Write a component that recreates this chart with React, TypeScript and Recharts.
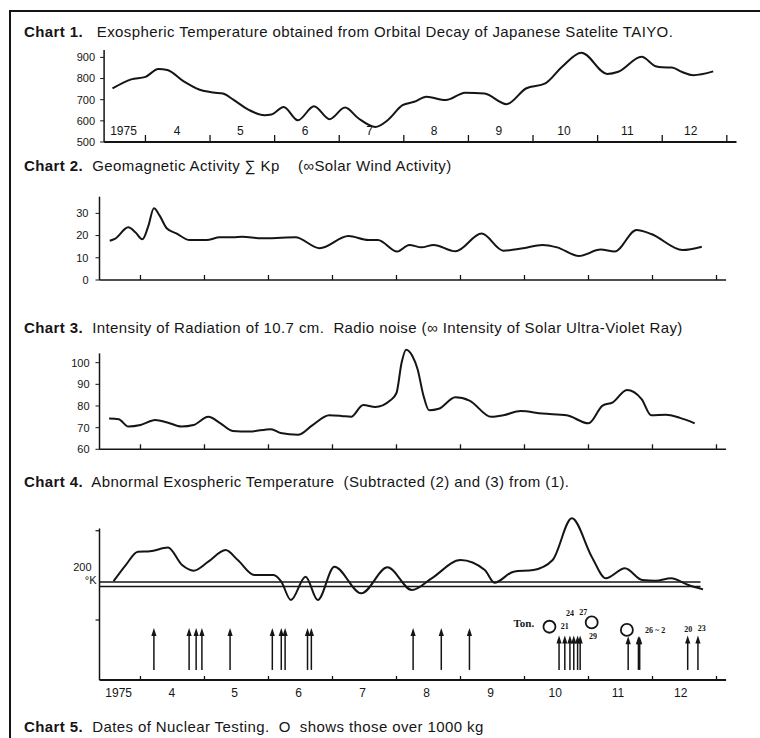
import React from "react";
import {
  ComposedChart,
  Line,
  LineChart,
  ReferenceDot,
  ReferenceLine,
  Scatter,
  XAxis,
  YAxis,
} from "recharts";

const FONT = '"Liberation Sans", Arial, sans-serif';
const SERIF = '"Liberation Serif", "Times New Roman", serif';
const INK = "#151515";

// months of 1975: integers are month boundaries, labels sit mid-month
const X_DOMAIN: [number, number] = [3.36, 13.15];
const monthBounds = [4, 5, 6, 7, 8, 9, 10, 11, 12, 13];
const monthLabels = ["1975", "4", "5", "6", "7", "8", "9", "10", "11", "12"];
const monthLabelAt = [3.66, 4.49, 5.47, 6.47, 7.47, 8.47, 9.47, 10.48, 11.46, 12.44];

// Chart 1 exospheric temperature (K)
const c1Month = [3.49, 3.78, 4.0, 4.2, 4.34, 4.6, 4.83, 5.05, 5.2, 5.36, 5.6, 5.84, 5.95, 6.14, 6.36, 6.61, 6.85, 7.09, 7.3, 7.56, 7.75, 7.98, 8.16, 8.35, 8.65, 8.95, 9.25, 9.59, 9.89, 10.19, 10.45, 10.75, 11.15, 11.32, 11.68, 11.9, 12.0, 12.15, 12.3, 12.48, 12.79];
const c1Temp = [753, 796, 808, 845, 840, 785, 748, 734, 729, 700, 652, 627, 630, 666, 603, 669, 608, 663, 611, 571, 603, 674, 690, 714, 698, 733, 729, 679, 753, 777, 856, 922, 822, 832, 903, 858, 853, 852, 832, 816, 834];

// Chart 2 geomagnetic activity (sum Kp)
const c2Month = [3.52, 3.6, 3.81, 3.92, 4.03, 4.12, 4.21, 4.3, 4.41, 4.56, 4.77, 5.03, 5.24, 5.45, 5.59, 5.89, 6.2, 6.42, 6.8, 7.25, 7.56, 7.71, 8.01, 8.2, 8.39, 8.58, 8.92, 9.33, 9.67, 9.98, 10.28, 10.51, 10.85, 11.19, 11.41, 11.75, 11.98, 12.47, 12.77];
const c2Kp = [17.7, 18.5, 23.7, 21.5, 18.3, 24, 32.3, 29, 23.3, 21, 18, 18, 19.2, 19.2, 19.5, 18.8, 19, 19.2, 14.3, 19.8, 18, 18, 12.8, 15.8, 14.7, 15.8, 12.9, 20.9, 13.2, 14.3, 15.8, 14.7, 10.8, 13.7, 12.8, 22.5, 20.7, 13.5, 15];

// Chart 3 10.7 cm radio flux
const c3Month = [3.51, 3.66, 3.81, 4.0, 4.23, 4.42, 4.64, 4.83, 5.06, 5.25, 5.44, 5.7, 6.04, 6.19, 6.46, 6.69, 6.95, 7.14, 7.29, 7.48, 7.67, 7.9, 8.0, 8.08, 8.15, 8.25, 8.33, 8.42, 8.51, 8.66, 8.92, 9.14, 9.48, 9.67, 9.94, 10.28, 10.66, 11.0, 11.22, 11.38, 11.6, 11.83, 11.98, 12.21, 12.43, 12.66];
const c3Flux = [74.2, 73.9, 70.5, 71.2, 73.5, 72.4, 70.5, 71.2, 75, 72, 68.5, 68.2, 69.3, 67.5, 66.7, 71.2, 75.7, 75.4, 75, 80.5, 79.5, 82.5, 86, 100, 106, 103, 97, 85, 78, 78.7, 84, 82.5, 75, 75.7, 77.7, 76.5, 75.7, 72, 80.2, 81.7, 87.4, 83.2, 75.7, 76, 74.5, 72];

// Chart 4 abnormal exospheric temperature (K, deviation)
const c4Month = [3.58, 3.77, 3.96, 4.15, 4.43, 4.65, 4.83, 5.06, 5.33, 5.52, 5.78, 6.08, 6.2, 6.35, 6.58, 6.77, 7.03, 7.45, 7.86, 8.24, 8.55, 9.0, 9.38, 9.53, 9.83, 10.14, 10.44, 10.74, 11.05, 11.27, 11.57, 11.84, 12.05, 12.29, 12.56, 12.79];
const c4Dev = [35, 237, 404, 410, 455, 237, 167, 279, 425, 300, 112, 112, 29, -200, 92, -200, 217, -117, 208, -75, 71, 300, 175, 17, 154, 175, 300, 821, 342, 71, 196, 50, 40, 71, -12, -67];
const c4Bands = [25, -31];

// Chart 5 nuclear tests
const testMonth = [4.21, 4.76, 4.87, 4.96, 5.4, 6.06, 6.2, 6.26, 6.61, 6.67, 8.26, 8.7, 9.14, 10.54, 10.63, 10.71, 10.77, 10.83, 10.87, 11.62, 11.78, 11.8, 12.55, 12.71];
const testTop = [31, 31, 31, 31, 31, 31, 31, 31, 31, 31, 31, 31, 31, 26.5, 26.5, 26.5, 26.5, 26.5, 26.5, 26, 26, 26, 26.5, 26.5];
const testBase = 6;
const bigTestMonth = [10.39, 11.05, 11.6];
const bigTestH = [31.7, 34.3, 29.8];
const noteText = ["21", "24", "27", "29", "26 ~ 2", "20", "23"];
const noteMonth = [10.63, 10.71, 10.92, 11.07, 12.04, 12.56, 12.77];
const noteH = [31.7, 39.3, 40.1, 25.8, 29.3, 29.8, 30.8];

const zip = (ms: number[], vs: number[]) => ms.map((m, i) => ({ m, v: vs[i] }));
const sortedTicks = [...monthBounds, ...monthLabelAt].sort((a, b) => a - b);
const testTips = testMonth.map((m, i) => ({ m, h: testTop[i] }));

function monthTick(tickLen: number, labelDy: number | null) {
  return (props: any) => {
    const { x, y, payload } = props;
    const v = payload.value;
    if (Number.isInteger(v)) {
      return <line x1={x} x2={x} y1={y} y2={y - tickLen} stroke={INK} strokeWidth={1.3} />;
    }
    const i = monthLabelAt.indexOf(v);
    if (labelDy === null || i < 0) return <g />;
    return (
      <text x={x} y={y + labelDy} textAnchor="middle" dominantBaseline="central" fontSize={12} fontFamily={FONT} fill={INK}>
        {monthLabels[i]}
      </text>
    );
  };
}

const yTick = { fontSize: 11, fill: INK, fontFamily: FONT };

const ArrowHead = (p: any) => {
  const { cx, cy } = p;
  return <polygon points={`${cx},${cy} ${cx - 2.6},${cy + 8} ${cx + 2.6},${cy + 8}`} fill={INK} />;
};

// small annotation text drawn at a reference dot position
const noteShape = (text: string, size: number) => (p: any) => (
  <text x={p.cx} y={p.cy} textAnchor="middle" dominantBaseline="central" fontSize={size} fontWeight={700} fontFamily={SERIF} fill={INK} opacity={0.99}>
    {text}
  </text>
);

const Chart4Tick = (p: any) => {
  const { x, y, payload } = p;
  if (payload.value === 200) {
    return (
      <g fontFamily={FONT} fontSize={11} fill={INK}>
        <text x={x - 8} y={y - 1} textAnchor="end" dominantBaseline="central">200</text>
        <text x={x - 3} y={y + 12} textAnchor="end" dominantBaseline="central">°K</text>
      </g>
    );
  }
  return <line x1={x - 4} x2={x} y1={y} y2={y} stroke={INK} strokeWidth={1.2} />;
};

const titles = [
  { top: 24, head: "Chart 1.", rest: "   Exospheric Temperature obtained from Orbital Decay of Japanese Satelite TAIYO." },
  { top: 158, head: "Chart 2.", rest: "  Geomagnetic Activity ∑ Kp    (∞Solar Wind Activity)" },
  { top: 320, head: "Chart 3.", rest: "  Intensity of Radiation of 10.7 cm.  Radio noise (∞ Intensity of Solar Ultra-Violet Ray)" },
  { top: 474, head: "Chart 4.", rest: "  Abnormal Exospheric Temperature  (Subtracted (2) and (3) from (1)." },
  { top: 719, head: "Chart 5.", rest: "  Dates of Nuclear Testing.  O  shows those over 1000 kg" },
];

const lineProps = {
  type: "monotone" as const,
  dataKey: "v",
  stroke: INK,
  strokeWidth: 2,
  dot: false,
  isAnimationActive: false,
};

export default function App() {
  return (
    <div style={{ position: "absolute", left: 0, top: 0, width: 760, height: 738, background: "#fff", overflow: "hidden", fontFamily: FONT, color: INK }}>
      <div style={{ position: "absolute", left: 9, top: 10, width: 760, height: 1.5, background: INK }} />
      <div style={{ position: "absolute", left: 9, top: 10, width: 1.5, height: 740, background: INK }} />

      {titles.map((t) => (
        <div key={t.head} style={{ position: "absolute", left: 24, top: t.top - 1, fontSize: 15, lineHeight: "17px", letterSpacing: 0.4, whiteSpace: "pre" }}>
          <b>{t.head}</b>
          {t.rest}
        </div>
      ))}

      <div style={{ position: "absolute", left: 0, top: 0 }}>
        <LineChart width={760} height={152} data={zip(c1Month, c1Temp)} margin={{ top: 50, right: 23.5, bottom: 0, left: 64.1 }}>
          <XAxis type="number" dataKey="m" domain={X_DOMAIN} ticks={sortedTicks} interval={0} tickLine={false} tickSize={0} tickMargin={0} height={10} axisLine={{ stroke: INK, strokeWidth: 1.8 }} tick={monthTick(7, -11)} />
          <YAxis type="number" width={40} domain={[500, 935]} ticks={[500, 600, 700, 800, 900]} interval={0} tickSize={4} tickMargin={5} tick={yTick} axisLine={{ stroke: INK, strokeWidth: 1.5 }} tickLine={{ stroke: INK }} />
          <Line {...lineProps} />
        </LineChart>
      </div>

      <div style={{ position: "absolute", left: 0, top: 190 }}>
        <LineChart width={760} height={100} data={zip(c2Month, c2Kp)} margin={{ top: 6.7, right: 33.9, bottom: 0, left: 59.5 }}>
          <XAxis type="number" dataKey="m" domain={X_DOMAIN} ticks={monthBounds} interval={0} tickLine={false} tickSize={0} tickMargin={0} height={10} axisLine={{ stroke: INK, strokeWidth: 1.6 }} tick={monthTick(5, null)} />
          <YAxis type="number" width={40} domain={[0, 37.5]} ticks={[0, 10, 20, 30]} interval={0} tickSize={4} tickMargin={7} tick={yTick} axisLine={{ stroke: INK, strokeWidth: 1.5 }} tickLine={{ stroke: INK }} />
          <Line {...lineProps} />
        </LineChart>
      </div>

      <div style={{ position: "absolute", left: 0, top: 340 }}>
        <LineChart width={760} height={119.3} data={zip(c3Month, c3Flux)} margin={{ top: 8.6, right: 33.9, bottom: 0, left: 59.5 }}>
          <XAxis type="number" dataKey="m" domain={X_DOMAIN} ticks={monthBounds} interval={0} tickLine={false} tickSize={0} tickMargin={0} height={10} axisLine={{ stroke: INK, strokeWidth: 1.6 }} tick={monthTick(5, null)} />
          <YAxis type="number" width={40} domain={[60, 106.5]} ticks={[60, 70, 80, 90, 100]} interval={0} tickSize={4} tickMargin={6} tick={yTick} axisLine={false} tickLine={{ stroke: INK }} />
          <ReferenceLine segment={[{ x: X_DOMAIN[0], y: 60 }, { x: X_DOMAIN[0], y: 104.3 }]} stroke={INK} strokeWidth={1.5} />
          <Line {...lineProps} />
        </LineChart>
      </div>

      <div style={{ position: "absolute", left: 0, top: 500 }}>
        <ComposedChart width={760} height={210} data={zip(c4Month, c4Dev)} margin={{ top: 12, right: 33.9, bottom: 0, left: 59.5 }}>
          <XAxis type="number" dataKey="m" domain={X_DOMAIN} ticks={sortedTicks} interval={0} tickLine={false} tickSize={0} tickMargin={0} height={30} axisLine={{ stroke: INK, strokeWidth: 2 }} tick={monthTick(4, 13)} />
          <YAxis yAxisId="t" type="number" width={40} domain={[-1200, 900]} ticks={[-450, 200, 666]} interval={0} tickSize={0} tickMargin={0} tickLine={false} axisLine={false} tick={Chart4Tick} />
          <YAxis yAxisId="a" type="number" orientation="right" width={0} hide domain={[0, 100]} />
          <ReferenceLine yAxisId="t" segment={[{ x: X_DOMAIN[0], y: -1200 }, { x: X_DOMAIN[0], y: 694 }]} stroke={INK} strokeWidth={1.5} />
          {c4Bands.map((b) => (
            <ReferenceLine key={b} yAxisId="t" segment={[{ x: X_DOMAIN[0], y: b }, { x: 12.75, y: b }]} stroke={INK} strokeWidth={1.6} />
          ))}
          <Line yAxisId="t" {...lineProps} />
          {testMonth.map((m, i) => (
            <ReferenceLine key={`t${i}`} yAxisId="a" segment={[{ x: m, y: testBase }, { x: m, y: testTop[i] - 3 }]} stroke={INK} strokeWidth={1.5} />
          ))}
          <Scatter yAxisId="a" data={testTips} dataKey="h" shape={ArrowHead} isAnimationActive={false} />
          {bigTestMonth.map((m, i) => (
            <ReferenceDot key={`b${i}`} yAxisId="a" x={m} y={bigTestH[i]} r={6} fill="#fff" stroke={INK} strokeWidth={1.8} />
          ))}
          <ReferenceDot yAxisId="a" x={9.99} y={33.7} r={1} shape={noteShape("Ton.", 11)} />
          {noteText.map((t, i) => (
            <ReferenceDot key={`n${i}`} yAxisId="a" x={noteMonth[i]} y={noteH[i]} r={1} shape={noteShape(t, 8)} />
          ))}
        </ComposedChart>
      </div>
    </div>
  );
}
